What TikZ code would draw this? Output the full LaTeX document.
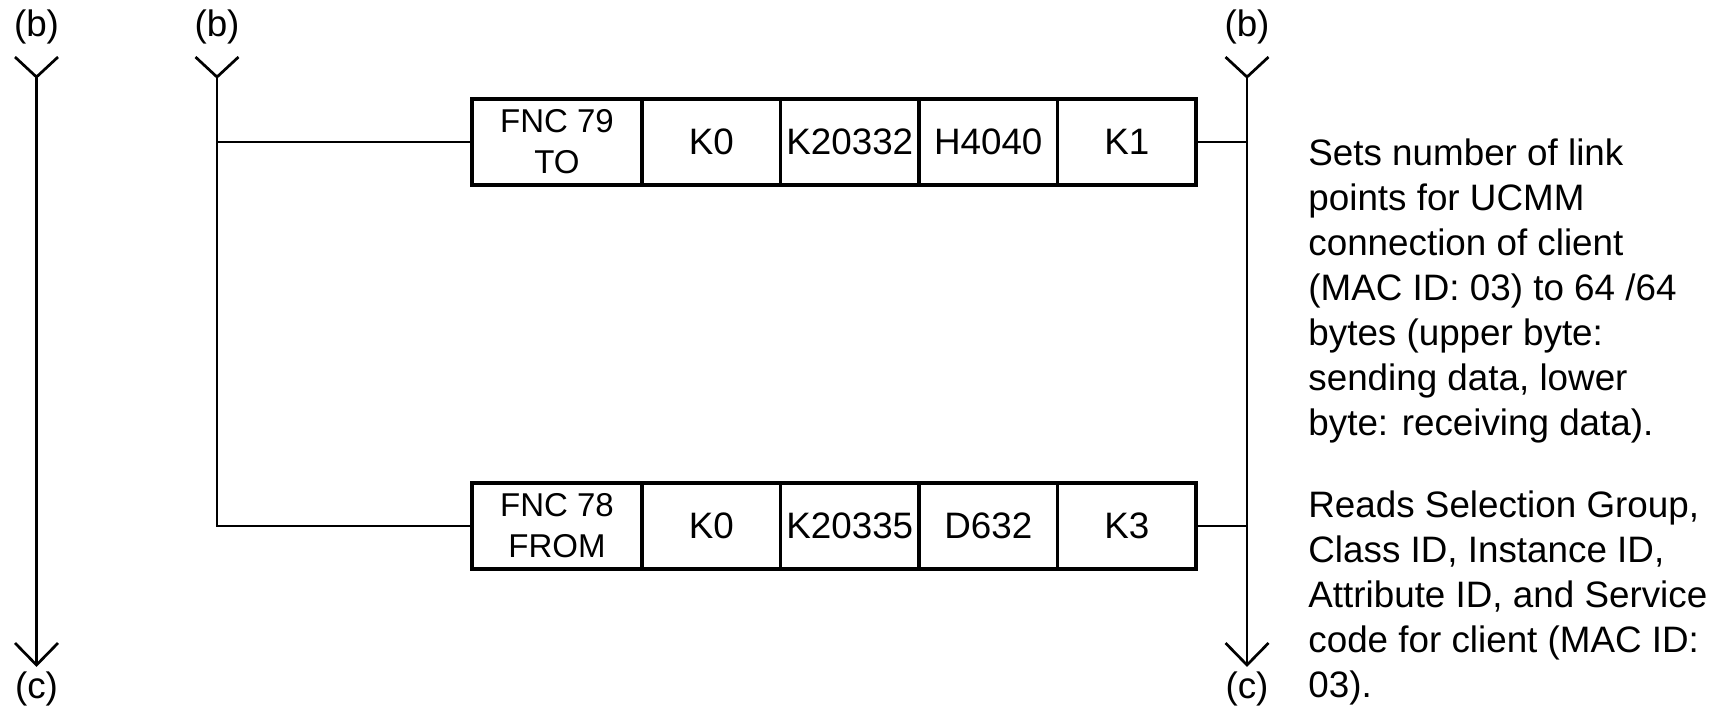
\documentclass[tikz,border=0pt]{standalone}
\usepackage{fontspec}
\setmainfont{Liberation Sans}
\usetikzlibrary{positioning, calc}

\tikzset{
	cell/.style = {draw, line width = 1.65pt, outer sep = 0pt, inner sep = 0pt, minimum width = 69.25pt, minimum height = 43pt, font = \fontsize{18.4}{21}\selectfont},
	fnccell/.style = {cell, minimum width = 85pt, align = center, font = \fontsize{16.5}{20.5}\selectfont},
	rail/.style = {line width = 1.35pt},
	rung/.style = {line width = 1pt},
	railtag/.style = {anchor = base, inner sep = 0pt, font = \fontsize{18.4}{21}\selectfont},
	note/.style = {align = left, anchor = north west, inner sep = 0pt, font = \fontsize{18.4}{22.5}\selectfont}
}

\begin{document}
\begin{tikzpicture}[x = 0.5pt, y = -0.5pt]
		\useasboundingbox (0,0) rectangle (1729,718);
		
		\coordinate (top1) at (36.5,77);
		\coordinate (top2) at (217,77);
		\coordinate (top3) at (1247,77);
		\coordinate (bot1) at (36.5,665);
		\coordinate (bot3) at (1247,665);
		
		% rail heads and (b) marks
		\foreach \r in {1,2,3} {
			\draw[rail] ($(top\r)+(-21.5,-20)$) -- (top\r) -- ($(top\r)+(21.5,-20)$);
			\node[railtag] (b\r) at ($(top\r)+(0,-41)$) {(b)};
		}
		
		% rail ends and (c) marks
		\foreach \r in {1,3} {
			\draw[rail] (top\r) -- (bot\r);
			\draw[rail] ($(bot\r)+(-21.5,-22)$) -- (bot\r) -- ($(bot\r)+(21.5,-22)$);
			\node[railtag] (c\r) at ($(bot\r)+(0,33)$) {(c)};
		}
		
		% FNC 79 TO
		\node[fnccell] (to) at (557,142) {FNC 79\\TO};
		\node[cell, right = 0pt of to] (toa) {K0};
		\node[cell, right = 0pt of toa] (tob) {K20332};
		\node[cell, right = 0pt of tob] (toc) {H4040};
		\node[cell, right = 0pt of toc] (tod) {K1};
		
		% FNC 78 FROM
		\node[fnccell] (from) at (557,526) {FNC 78\\FROM};
		\node[cell, right = 0pt of from] (froma) {K0};
		\node[cell, right = 0pt of froma] (fromb) {K20335};
		\node[cell, right = 0pt of fromb] (fromc) {D632};
		\node[cell, right = 0pt of fromc] (fromd) {K3};
		
		\draw[rail] (top2) |- (from.west);
		\draw[rung] (top2 |- to.west) -- (to.west);
		\draw[rung] (tod.east) -- (tod.east -| top3);
		\draw[rung] (fromd.east) -- (fromd.east -| top3);
		
		\node[note] (noteto) at (1308,138) {Sets number of link\\points for UCMM\\connection of client\\(MAC ID: 03) to 64 /64\\bytes (upper byte:\\sending data, lower\\byte: receiving data).};
		\node[note] (notefrom) at (1308,490) {Reads Selection Group,\\Class ID, Instance ID,\\Attribute ID, and Service\\code for client (MAC ID:\\03).};
	\end{tikzpicture}
\end{document}
